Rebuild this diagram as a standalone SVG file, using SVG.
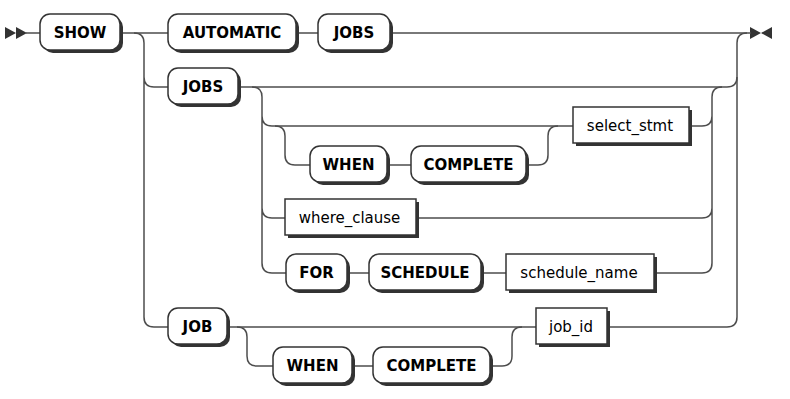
<svg xmlns="http://www.w3.org/2000/svg" width="790" height="399" viewBox="0 0 790 399">
<style>
.line{fill:none;stroke:#4d4d4d;stroke-width:1.5}
.sh{fill:#333}
.box{fill:#fff;stroke:#333;stroke-width:1.5}
.mk{fill:#333}
text{font-family:"DejaVu Sans",Verdana,sans-serif;font-size:15px;fill:#000;text-anchor:middle}
.kw{font-weight:bold}
</style>
<rect width="790" height="399" fill="#fff"/>
<g id="connectors">
<polygon class="mk" points="16 33 5 27 5 39"/>
<polygon class="mk" points="27 33 16 27 16 39"/>
<polygon class="mk" points="761 33 750 27 750 39"/>
<polygon class="mk" points="761 33 772 27 772 39"/>
<path class="line" d="M26 33H40M120 33H168M296 33H318M390 33H751"/>
<path class="line" d="M134 33q10 0 10 10V317q0 10 10 10H168M144 77q0 10 10 10H168"/>
<path class="line" d="M727 327q10 0 10 -10V43q0 -10 10 -10"/>
<path class="line" d="M238 87H727q10 0 10 -10"/>
<path class="line" d="M252 87q10 0 10 10V263q0 10 10 10H286M262 116q0 10 10 10H573M262 208q0 10 10 10H285"/>
<path class="line" d="M275 126q10 0 10 10V155q0 10 10 10H310M387 165H411M526 165H538q10 0 10 -10V136q0 -10 10 -10"/>
<path class="line" d="M689 126H702q10 0 10 -10V97q0 -10 10 -10M416 218H702q10 0 10 -10M654 273H702q10 0 10 -10V116"/>
<path class="line" d="M347 273H369M481 273H506"/>
<path class="line" d="M227 327H536M607 327H727"/>
<path class="line" d="M237 327q10 0 10 10V356q0 10 10 10H273M352 366H373M490 366H502q10 0 10 -10V337q0 -10 10 -10"/>
</g>
<g id="n-show"><rect class="sh" x="43" y="17" width="80" height="36" rx="10"/><rect class="box" x="40" y="14" width="80" height="36" rx="10"/><text class="kw" x="80" y="38">SHOW</text></g>
<g id="n-automatic"><rect class="sh" x="171" y="17" width="128" height="36" rx="10"/><rect class="box" x="168" y="14" width="128" height="36" rx="10"/><text class="kw" x="232" y="38">AUTOMATIC</text></g>
<g id="n-jobs1"><rect class="sh" x="321" y="17" width="72" height="36" rx="10"/><rect class="box" x="318" y="14" width="72" height="36" rx="10"/><text class="kw" x="354" y="38">JOBS</text></g>
<g id="n-jobs2"><rect class="sh" x="171" y="71" width="70" height="36" rx="10"/><rect class="box" x="168" y="68" width="70" height="36" rx="10"/><text class="kw" x="203" y="92">JOBS</text></g>
<g id="n-select"><rect class="sh" x="576" y="110" width="116" height="36"/><rect class="box" x="573" y="107" width="116" height="36"/><text x="630" y="131">select_stmt</text></g>
<g id="n-when1"><rect class="sh" x="313" y="149" width="77" height="36" rx="10"/><rect class="box" x="310" y="146" width="77" height="36" rx="10"/><text class="kw" x="348.5" y="170">WHEN</text></g>
<g id="n-complete1"><rect class="sh" x="414" y="149" width="115" height="36" rx="10"/><rect class="box" x="411" y="146" width="115" height="36" rx="10"/><text class="kw" x="468.5" y="170">COMPLETE</text></g>
<g id="n-where"><rect class="sh" x="288" y="202" width="131" height="36"/><rect class="box" x="285" y="199" width="131" height="36"/><text x="349.5" y="223">where_clause</text></g>
<g id="n-for"><rect class="sh" x="289" y="257" width="61" height="36" rx="10"/><rect class="box" x="286" y="254" width="61" height="36" rx="10"/><text class="kw" x="316.5" y="278">FOR</text></g>
<g id="n-schedule"><rect class="sh" x="372" y="257" width="112" height="36" rx="10"/><rect class="box" x="369" y="254" width="112" height="36" rx="10"/><text class="kw" x="425" y="278">SCHEDULE</text></g>
<g id="n-schedname"><rect class="sh" x="509" y="257" width="148" height="36"/><rect class="box" x="506" y="254" width="148" height="36"/><text x="579" y="278">schedule_name</text></g>
<g id="n-job"><rect class="sh" x="171" y="311" width="59" height="36" rx="10"/><rect class="box" x="168" y="308" width="59" height="36" rx="10"/><text class="kw" x="197.5" y="332">JOB</text></g>
<g id="n-jobid"><rect class="sh" x="539" y="311" width="71" height="36"/><rect class="box" x="536" y="308" width="71" height="36"/><text x="571" y="332">job_id</text></g>
<g id="n-when2"><rect class="sh" x="276" y="350" width="79" height="36" rx="10"/><rect class="box" x="273" y="347" width="79" height="36" rx="10"/><text class="kw" x="312.5" y="371">WHEN</text></g>
<g id="n-complete2"><rect class="sh" x="376" y="350" width="117" height="36" rx="10"/><rect class="box" x="373" y="347" width="117" height="36" rx="10"/><text class="kw" x="431.5" y="371">COMPLETE</text></g>
</svg>
